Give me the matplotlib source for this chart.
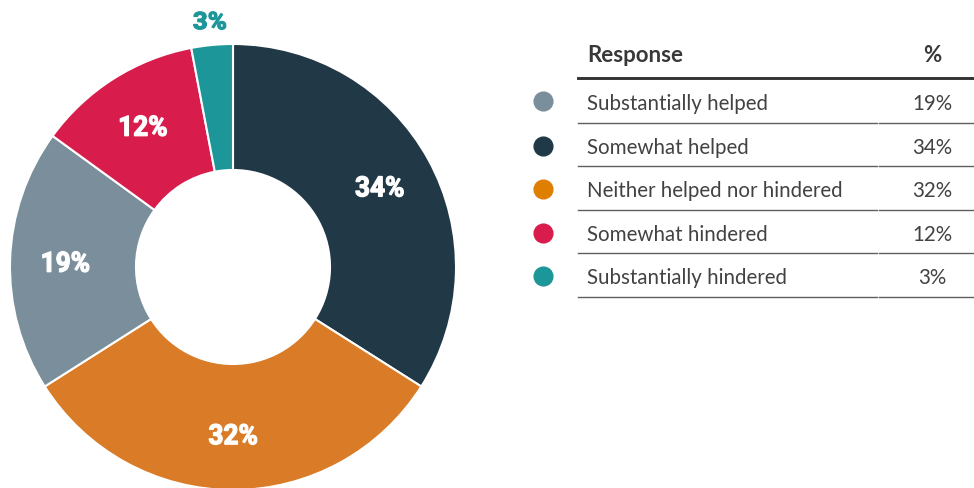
"""
Donut chart of responses with a side table.
"""
import numpy as np
import matplotlib
matplotlib.use("Agg")
import matplotlib.pyplot as plt
from matplotlib.lines import Line2D
from matplotlib.textpath import TextPath
from matplotlib.font_manager import FontProperties
from matplotlib.patches import PathPatch
from matplotlib.transforms import Affine2D

# Data (pie order, clockwise from top)
pie_labels = ["Somewhat helped", "Neither helped nor hindered", "Substantially helped",
              "Somewhat hindered", "Substantially hindered"]
pie_values = [34, 32, 19, 12, 3]
pie_colors = ["#213846", "#d97b27", "#7a8f9b", "#d81c4b", "#1c9699"]

# Table order
table_labels = ["Substantially helped", "Somewhat helped", "Neither helped nor hindered",
                "Somewhat hindered", "Substantially hindered"]
table_values = [19, 34, 32, 12, 3]
table_colors = ["#7a8f9b", "#213846", "#df7f00", "#d81c4b", "#1c9699"]

W, H = 974, 489
fig = plt.figure(figsize=(W / 100, H / 100), dpi=100)


def fx(px):
    return px / W


def fy(py):
    return 1 - py / H


# Donut
cx, cy, r = 233, 268, 223
ax = fig.add_axes([fx(cx - r), fy(cy + r), 2 * r / W, 2 * r / H])
wedges, _ = ax.pie(pie_values, colors=pie_colors, startangle=90, counterclock=False,
                   radius=1, wedgeprops=dict(width=0.565, edgecolor="white", linewidth=1.5))
ax.set_xlim(-1, 1)
ax.set_ylim(-1, 1)
ax.set_aspect("equal")
ax.axis("off")

# Condensed bold labels: squeeze a bold font horizontally
fp = FontProperties(family=["Roboto", "DejaVu Sans"], weight="bold")
ref = TextPath((0, 0), "34%", size=1, prop=fp).get_extents()
sy = (20.5 / r) / ref.height
sx = (47.5 / r) / ref.width


def condensed_label(x, y, s, color, k=1.0, kx=1.0):
    tp = TextPath((0, 0), s, size=1, prop=fp)
    ext = tp.get_extents()
    tr = (Affine2D().translate(-(ext.x0 + ext.width / 2), -(ext.y0 + ext.height / 2))
          .scale(sx * k * kx, sy * k).translate(x, y) + ax.transData)
    patch = PathPatch(tp, transform=tr, facecolor=color, edgecolor=color, lw=0.9,
                      clip_on=False)
    ax.add_artist(patch)


for w, v in zip(wedges, pie_values):
    ang = np.deg2rad((w.theta1 + w.theta2) / 2)
    if v < 5:
        condensed_label(1.11 * np.cos(ang), 1.11 * np.sin(ang), f"{v}%",
                        w.get_facecolor(), k=0.86, kx=1.15)
    else:
        condensed_label(0.75 * np.cos(ang), 0.75 * np.sin(ang), f"{v}%", "white")

# Table
tfont = ["Lato", "DejaVu Sans"]
fig.text(fx(587), fy(62), "Response", ha="left", va="baseline", fontsize=16,
         fontweight="bold", color="#383838", family=tfont)
fig.text(fx(932), fy(62), "%", ha="center", va="baseline", fontsize=16,
         fontweight="bold", color="#383838", family=tfont)
fig.add_artist(Line2D([fx(578), fx(877)], [fy(78.5), fy(78.5)], color="#333333", lw=2.1))
fig.add_artist(Line2D([fx(879), fx(974)], [fy(78.5), fy(78.5)], color="#333333", lw=2.1))

row_base = [110, 154, 197, 241, 284]
dot_y = [102, 147, 190, 234, 277]
line_y = [123.5, 167, 211, 254, 298]
for lab, val, col, ty, dy, ly in zip(table_labels, table_values, table_colors,
                                     row_base, dot_y, line_y):
    fig.text(fx(587), fy(ty), lab, ha="left", va="baseline", fontsize=14.8,
             color="#424242", family=tfont)
    fig.text(fx(932), fy(ty), f"{val}%", ha="center", va="baseline", fontsize=14.8,
             color="#424242", family=tfont)
    fig.add_artist(Line2D([fx(543)], [fy(dy)], marker="o", markersize=13.5,
                          color=col, linestyle="none"))
    fig.add_artist(Line2D([fx(578), fx(877)], [fy(ly), fy(ly)], color="#5f5f5f", lw=1.0))
    fig.add_artist(Line2D([fx(879), fx(974)], [fy(ly), fy(ly)], color="#5f5f5f", lw=1.0))

fig.savefig("out.png", dpi=100)
